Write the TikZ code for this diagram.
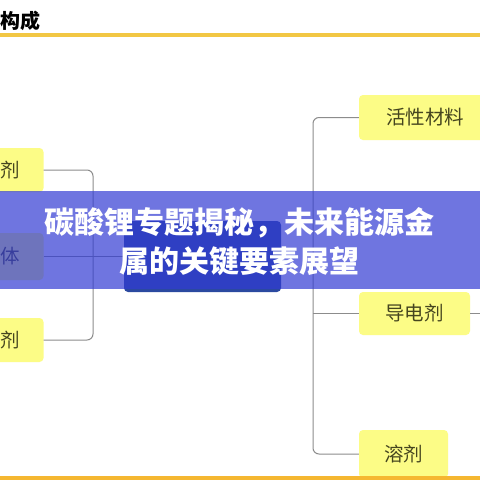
\documentclass[tikz,border=0pt]{standalone}
\usepackage{fontspec}
\setmainfont{Noto Sans CJK SC}
\definecolor{boxyel}{HTML}{FCFC86}
\definecolor{boxtxt}{HTML}{45451F}
\definecolor{linegray}{HTML}{8C8C8C}
\definecolor{centerblue}{HTML}{2B49A0}
\definecolor{bannerblue}{RGB}{50,59,211}
\definecolor{topline}{HTML}{F2C744}
\definecolor{botline}{HTML}{F5B731}
\tikzset{
  itembox/.style={fill=boxyel, rounded corners=4pt, text=boxtxt, font=\fontsize{19.5}{21}\selectfont, inner sep=0pt},
  conn/.style={draw=linegray, line width=1pt, rounded corners=6pt},
}
\begin{document}
\begin{tikzpicture}[x=1pt,y=-1pt]
\useasboundingbox (0,0) rectangle (480,480);
\clip (0,0) rectangle (480,480);
\fill[white] (0,0) rectangle (480,480);
% header
\node[anchor=west, font=\fontsize{20}{22}\selectfont\bfseries, text=black, inner sep=0pt] (hdr) at (0,21) {构成};
\fill[topline] (0,33) rectangle (480,37);
% center box
\node[fill=centerblue, rounded corners=4pt, minimum width=157pt, minimum height=71pt, inner sep=0pt] (ctr) at (202.5,256.5) {};
% left boxes
\node[itembox, minimum width=105pt, minimum height=44pt] (ltop) at (-9,170) {粘结剂};
\node[itembox, minimum width=105pt, minimum height=47pt] (lmid) at (-9,256.5) {集流体};
\node[itembox, minimum width=105pt, minimum height=44pt] (lbot) at (-9,340) {添加剂};
% right boxes
\node[itembox, minimum width=132pt, minimum height=45pt] (act) at (425,117.5) {活性材料};
\node[itembox, minimum width=111pt, minimum height=43pt] (cond) at (414.5,313.5) {导电剂};
\node[itembox, minimum width=89pt, minimum height=48pt] (solv) at (403.5,454) {溶剂};
% connectors
\coordinate (rend) at (480,313.5);
\draw[conn] (ltop.east) -- (93,170) -- (93,340) -- (lbot.east);
\draw[conn] (lmid.east) -- (ctr.west);
\draw[conn] (act.west) -- (313,117.5) -- (313,454) -- (solv.west);
\draw[conn] (cond.west) -- (313,313.5);
\draw[conn] (cond.east) -- (rend);
% bottom line
\fill[botline] (0,476) rectangle (480,480);
% banner
\fill[bannerblue, opacity=0.7] (0,191) rectangle (480,289);
\node[text=white, font=\fontsize{30}{39}\selectfont\bfseries, align=center, inner sep=0pt] (ttl) at (240,241.5) {碳酸锂专题揭秘，未来能源金\\属的关键要素展望};
\end{tikzpicture}
\end{document}
